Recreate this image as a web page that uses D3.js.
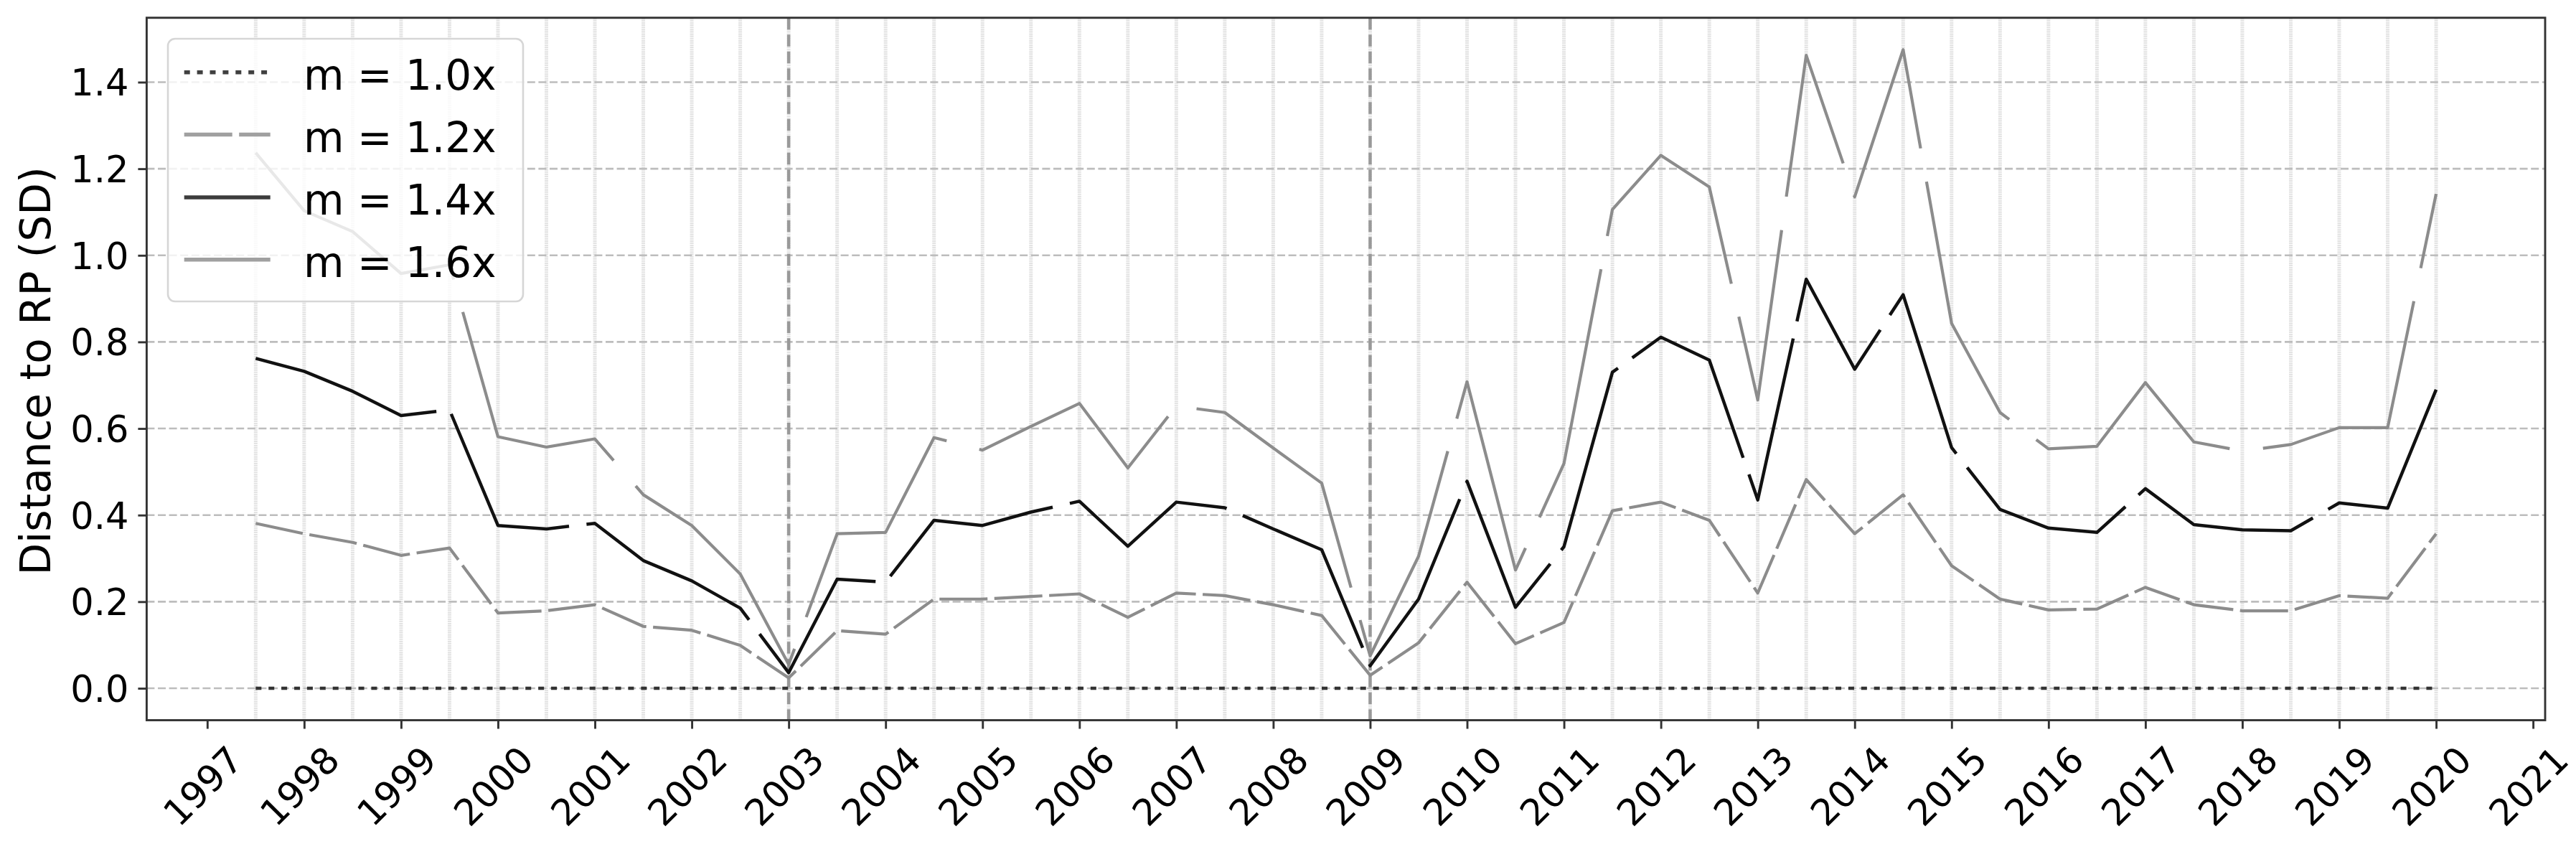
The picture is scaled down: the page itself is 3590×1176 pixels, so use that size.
<!DOCTYPE html>
<html><head><meta charset="utf-8">
<script src="https://cdn.jsdelivr.net/npm/d3@7"></script>
<style>body{margin:0;background:#fff}svg{display:block}text{font-family:"DejaVu Sans",sans-serif;fill:#000}</style>
</head><body><svg id="c" width="3590" height="1176"></svg>
<script>
// ---- data ----
const periods = [1997.5,1998,1998.5,1999,1999.5,2000,2000.5,2001,2001.5,2002,2002.5,2003,2003.5,2004,2004.5,2005,2005.5,2006,2006.5,2007,2007.5,2008,2008.5,2009,2009.5,2010,2010.5,2011,2011.5,2012,2012.5,2013,2013.5,2014,2014.5,2015,2015.5,2016,2016.5,2017,2017.5,2018,2018.5,2019,2019.5,2020];
const yearTicks = [1997,1998,1999,2000,2001,2002,2003,2004,2005,2006,2007,2008,2009,2010,2011,2012,2013,2014,2015,2016,2017,2018,2019,2020,2021];
const yTicks = [0.0,0.2,0.4,0.6,0.8,1.0,1.2,1.4];
const eventYears = [2003,2009];
const seriesNames = ["m = 1.0x","m = 1.2x","m = 1.4x","m = 1.6x"];
const m10 = [0,0,0,0,0,0,0,0,0,0,0,0,0,0,0,0,0,0,0,0,0,0,0,0,0,0,0,0,0,0,0,0,0,0,0,0,0,0,0,0,0,0,0,0,0,0];
const m12 = [0.381,0.357,0.337,0.307,0.324,0.174,0.179,0.193,0.143,0.134,0.099,0.024,0.133,0.125,0.206,0.206,0.212,0.218,0.164,0.220,0.214,0.193,0.168,0.030,0.105,0.245,0.103,0.152,0.410,0.430,0.388,0.220,0.482,0.357,0.447,0.283,0.206,0.181,0.183,0.233,0.193,0.179,0.179,0.214,0.208,0.357];
const m14 = [0.762,0.732,0.686,0.630,0.643,0.376,0.368,0.381,0.295,0.248,0.185,0.036,0.252,0.245,0.388,0.376,0.407,0.432,0.328,0.430,0.417,0.368,0.320,0.052,0.206,0.478,0.187,0.327,0.730,0.811,0.758,0.435,0.945,0.737,0.909,0.556,0.413,0.370,0.360,0.461,0.378,0.366,0.364,0.428,0.416,0.690];
const m16 = [1.237,1.103,1.055,0.958,0.978,0.581,0.557,0.576,0.447,0.376,0.264,0.055,0.357,0.360,0.579,0.550,0.605,0.658,0.509,0.652,0.637,0.555,0.474,0.075,0.305,0.708,0.273,0.519,1.106,1.231,1.158,0.666,1.462,1.135,1.475,0.843,0.637,0.553,0.559,0.706,0.569,0.548,0.563,0.602,0.602,1.142];
const seriesValues = [m10,m12,m14,m16];

// ---- styles ----
const styles = [
  {color:"#333333", width:4.5, dash:"8,9.9", legColor:"#404040"},
  {color:"#8c8c8c", width:4.2, dash:"67,9.5", legColor:"#a0a0a0"},
  {color:"#111111", width:4.5, dash:"268,24.5", legColor:"#3c3c3c"},
  {color:"#8c8c8c", width:4.2, dash:"358,47", legColor:"#a0a0a0"}
];

const L = 204.4, R = 3547, T = 24.75, B = 1003.5;
const svg = d3.select("#c");

const xmin = d3.min(periods), xmax = d3.max(periods);
const xpad = 0.05*(xmax-xmin);
const x = d3.scaleLinear().domain([xmin-xpad, xmax+xpad]).range([L,R]);
const allVals = seriesValues.flat();
const ymin = d3.min(allVals), ymax = d3.max(allVals);
const ypad = 0.05*(ymax-ymin);
const y = d3.scaleLinear().domain([ymin-ypad, ymax+ypad]).range([B,T]);

const grid = svg.append("g");
// light vertical half-year gridlines
grid.selectAll("line.vg").data(periods).join("line")
  .attr("x1",d=>x(d)).attr("x2",d=>x(d)).attr("y1",T).attr("y2",B)
  .attr("stroke","#e3e3e3").attr("stroke-width",5).attr("stroke-dasharray","2.2,0.9");
// horizontal gridlines
grid.selectAll("line.hg").data(yTicks).join("line")
  .attr("x1",L).attr("x2",R).attr("y1",d=>y(d)).attr("y2",d=>y(d))
  .attr("stroke","#bdbdbd").attr("stroke-width",2.6).attr("stroke-dasharray","11,4.6");
// event lines
grid.selectAll("line.ev").data(eventYears).join("line")
  .attr("x1",d=>x(d)).attr("x2",d=>x(d)).attr("y1",T).attr("y2",B)
  .attr("stroke","#999").attr("stroke-width",4.5).attr("stroke-dasharray","16.5,7");

// series
const line = d3.line().x((d,i)=>x(periods[i])).y(d=>y(d));
const sg = svg.append("g");
seriesValues.forEach((vals,k)=>{
  sg.append("path").attr("d",line(vals)).attr("fill","none")
    .attr("stroke",styles[k].color).attr("stroke-width",styles[k].width)
    .attr("stroke-dasharray",styles[k].dash)
    .attr("stroke-linejoin","round").attr("stroke-linecap","butt");
});

// axes
const xAxis = d3.axisBottom(x).tickValues(yearTicks).tickFormat(d3.format("d")).tickSize(12).tickSizeOuter(0);
const gx = svg.append("g").attr("transform",`translate(0,${B})`).call(xAxis);
gx.select(".domain").remove();
gx.selectAll(".tick line").attr("stroke","#333").attr("stroke-width",2.9);
gx.selectAll(".tick text").attr("y",null).attr("dy","0.36em")
  .attr("text-anchor","middle").attr("font-size",51).attr("fill","#000")
  .attr("transform",`translate(-7,${1095-B}) rotate(-45)`);

const yAxis = d3.axisLeft(y).tickValues(yTicks).tickFormat(d3.format(".1f")).tickSize(12).tickPadding(13).tickSizeOuter(0);
const gy = svg.append("g").attr("transform",`translate(${L},0)`).call(yAxis);
gy.select(".domain").remove();
gy.selectAll(".tick line").attr("stroke","#333").attr("stroke-width",2.9);
gy.selectAll(".tick text").attr("dy","0.36em").attr("font-size",51).attr("fill","#000");

svg.append("text").attr("transform","translate(70,517) rotate(-90)")
  .attr("text-anchor","middle").attr("font-size",58).text("Distance to RP (SD)");

// legend
const lg = svg.append("g");
lg.append("rect").attr("x",234).attr("y",54).attr("width",495).attr("height",366)
  .attr("rx",10).attr("ry",10).attr("fill","#fff").attr("fill-opacity",0.8)
  .attr("stroke","#d6d6d6").attr("stroke-width",2.6);
const rowY = [100.7,187.5,275,361.7];
seriesNames.forEach((name,k)=>{
  lg.append("line").attr("x1",256.7).attr("x2",376.7).attr("y1",rowY[k]).attr("y2",rowY[k])
    .attr("stroke",styles[k].legColor).attr("stroke-width",5.6)
    .attr("stroke-dasharray",styles[k].dash).attr("stroke-linecap","butt");
  lg.append("text").attr("x",423).attr("y",rowY[k]+24.3).attr("font-size",58).text(name);
});

// spines
svg.append("rect").attr("x",L).attr("y",T).attr("width",R-L).attr("height",B-T)
  .attr("fill","none").attr("stroke","#333").attr("stroke-width",2.9);
</script></body></html>
